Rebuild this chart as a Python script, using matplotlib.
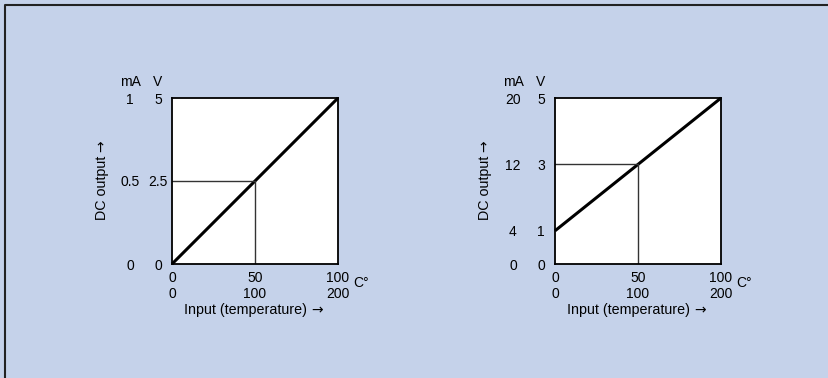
import matplotlib
matplotlib.use("Agg")
import matplotlib.pyplot as plt
from matplotlib.lines import Line2D
import matplotlib.transforms as mtrans

plt.rcParams['font.family'] = ['Liberation Sans', 'DejaVu Sans']

# left chart: 0-5 V / 0-1 mA
x_ticks = [0, 50, 100]
x_ticks2 = [0, 100, 200]
left_v_ticks = [0, 2.5, 5]
left_ma_labels = ['0', '0.5', '1']
left_line_x = [0, 100]
left_line_y = [0, 5]
left_ref = (50, 2.5)

# right chart: 1-5 V / 4-20 mA
right_v_ticks = [0, 1, 3, 5]
right_ma_labels = ['0', '4', '12', '20']
right_line_x = [0, 100]
right_line_y = [1, 5]
right_ref = (50, 3)

bg = '#c5d2ea'
W, H = 829, 378
fs = 10
S = 166  # axes size in px

fig = plt.figure(figsize=(W / 100, H / 100), dpi=100)
fig.patch.set_facecolor(bg)

# frame around the figure (top and left only visible)
fig.add_artist(Line2D([5 / W, 5 / W, 1], [0, 1 - 5 / H, 1 - 5 / H],
                      transform=fig.transFigure, color='#222222', lw=1.5))


def draw(left_px, v_ticks, ma_labels, lx, ly, ref):
    ax = fig.add_axes([left_px / W, (H - 264) / H, S / W, S / H])
    ax.set_facecolor('white')
    ax.set_xlim(0, 100)
    ax.set_ylim(0, 5)
    for s in ax.spines.values():
        s.set_linewidth(1.3)
        s.set_color('black')
    ax.plot(lx, ly, color='black', lw=2.2, solid_capstyle='butt', clip_on=False)
    rx, ry = ref
    ax.plot([0, rx, rx], [ry, ry, 0], color='#333333', lw=1.0)

    ax.set_xticks(x_ticks)
    ax.set_xticklabels([f"{a}\n{b}" for a, b in zip(x_ticks, x_ticks2)],
                       fontsize=fs, linespacing=1.2)
    ax.set_yticks(v_ticks)
    ax.set_yticklabels([f"{v:g}" for v in v_ticks], fontsize=fs, ha='center')
    ax.tick_params(length=0, pad=5)
    ax.tick_params(axis='y', pad=10)

    tr = mtrans.blended_transform_factory(ax.transAxes, ax.transData)
    for v, m in zip(v_ticks, ma_labels):
        ax.text(-42 / S, v, m, transform=tr, ha='center',
                va='center_baseline', fontsize=fs)
    ax.text(-42 / S, 1 + 18 / S, 'mA', transform=ax.transAxes,
            ha='center', va='center_baseline', fontsize=fs)
    ax.text(-14 / S, 1 + 18 / S, 'V', transform=ax.transAxes,
            ha='center', va='center_baseline', fontsize=fs)
    ax.text(1 + 15 / S, -19 / S, 'C°', transform=ax.transAxes,
            ha='left', va='center', fontsize=fs)
    ax.text(0.5 - 9 / S, -46 / S, 'Input (temperature)', transform=ax.transAxes,
            ha='center', va='center', fontsize=10.3)
    ax.text(0.5 + 62 / S, -46 / S, '→', transform=ax.transAxes,
            ha='center', va='center', fontsize=fs, family='DejaVu Sans')
    ax.text(-70 / S, 0.5 - 7 / S, 'DC output', transform=ax.transAxes,
            ha='center', va='center', rotation=90, fontsize=10.3)
    ax.text(-70 / S, 0.5 + 35 / S, '→', transform=ax.transAxes,
            ha='center', va='center', rotation=90, fontsize=fs,
            family='DejaVu Sans')
    return ax


draw(172, left_v_ticks, left_ma_labels, left_line_x, left_line_y, left_ref)
draw(555, right_v_ticks, right_ma_labels, right_line_x, right_line_y, right_ref)

fig.savefig('out.png', dpi=100, facecolor=bg)
